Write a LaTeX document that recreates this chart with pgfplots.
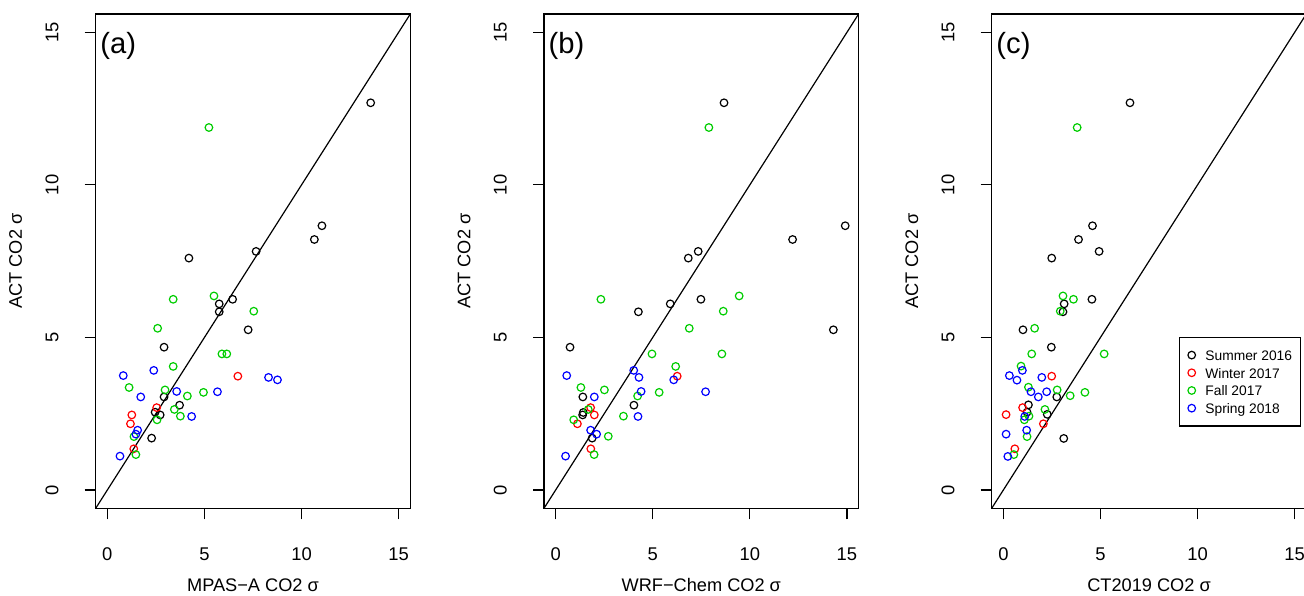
\documentclass[border=0pt]{standalone}
\usepackage{fontspec}
\setmainfont{Liberation Sans}
\usepackage{pgfplots}
\pgfplotsset{compat=1.18}
\definecolor{rred}{RGB}{255,0,0}
\definecolor{rgreen}{RGB}{0,205,0}
\definecolor{rblue}{RGB}{0,0,255}
\pgfplotsset{
  panel/.style={
    scale only axis, width=157.3pt, height=247.15pt,
    xmin=-0.6, xmax=15.6, ymin=-0.6, ymax=15.6,
    xtick={0,5,10,15}, ytick={0,5,10,15},
    xtick pos=left, ytick pos=left,
    tick align=outside, major tick length=5.5pt,
    tick style={black, line width=0.6pt},
    axis line style={line width=0.6pt},
    /pgf/number format/assume math mode=true,
    tick label style={font=\fontsize{9.2}{11}\selectfont},
    xticklabel style={anchor=north, inner sep=0pt},
    yticklabel style={rotate=90, anchor=south, inner sep=0pt},
    xticklabel shift=14.2pt, yticklabel shift=12.85pt,
    label style={font=\fontsize{9.1}{11}\selectfont},
    xlabel style={at={(axis description cs:0.5,-0.1687)}, anchor=base, inner sep=0pt},
    ylabel style={at={(axis description cs:-0.2343,0.5)}, anchor=base, inner sep=0pt},
    ylabel={ACT CO2 σ},
  },
  pts/.style={only marks, mark=o, mark size=1.9pt, mark options={line width=0.6pt, draw=#1}, color=#1},
  oneline/.style={black, line width=0.6pt, no marks, forget plot},
}
\newcommand{\panellabel}[1]{\node[anchor=west, inner sep=0pt, font=\fontsize{14.6}{18}\selectfont] at (rel axis cs:0.0137,0.9357) {#1};}
\begin{document}
\begin{tikzpicture}
\useasboundingbox (0,0) rectangle (652pt,297.5pt);
% ---------------- (a)
\begin{axis}[panel, at={(47.85pt,43.35pt)}, anchor=south west, xlabel={MPAS−A CO2 σ}]
\addplot[oneline] coordinates {(-0.6,-0.6) (15.6,15.6)};
\addplot[pts=black] coordinates {(13.56,12.69) (11.05,8.66) (10.66,8.21) (7.66,7.82) (4.20,7.60) (5.76,6.10) (6.45,6.25) (5.76,5.84) (7.25,5.25) (2.92,4.68) (2.92,3.05) (3.72,2.78) (2.46,2.55) (2.72,2.46) (2.28,1.70)};
\addplot[pts=rred] coordinates {(6.72,3.73) (2.54,2.70) (1.26,2.46) (1.19,2.17) (1.36,1.35)};
\addplot[pts=rgreen] coordinates {(5.23,11.88) (3.39,6.25) (5.49,6.36) (7.54,5.86) (2.59,5.30) (3.39,4.05) (5.90,4.46) (6.15,4.46) (1.12,3.36) (2.97,3.28) (4.12,3.08) (4.95,3.20) (3.45,2.64) (3.76,2.42) (2.56,2.30) (1.37,1.75) (1.47,1.16)};
\addplot[pts=rblue] coordinates {(0.82,3.75) (2.39,3.92) (8.30,3.69) (8.76,3.61) (1.72,3.05) (3.57,3.23) (5.67,3.22) (4.34,2.41) (1.56,1.96) (1.47,1.83) (0.65,1.11)};
\panellabel{(a)}
\end{axis}
% ---------------- (b)
\begin{axis}[panel, at={(272pt,43.35pt)}, anchor=south west, xlabel={WRF−Chem CO2 σ}]
\addplot[oneline] coordinates {(-0.6,-0.6) (15.6,15.6)};
\addplot[pts=black] coordinates {(8.67,12.69) (14.91,8.66) (12.20,8.21) (7.34,7.82) (6.83,7.60) (5.90,6.10) (7.48,6.25) (4.26,5.84) (14.30,5.25) (0.74,4.68) (1.40,3.05) (4.03,2.78) (1.42,2.54) (1.39,2.46) (1.88,1.70)};
\addplot[pts=rred] coordinates {(6.26,3.73) (1.80,2.70) (1.99,2.46) (1.12,2.17) (1.81,1.35)};
\addplot[pts=rgreen] coordinates {(7.89,11.88) (2.33,6.25) (9.45,6.36) (8.63,5.86) (6.88,5.30) (4.96,4.46) (8.56,4.46) (6.18,4.05) (1.30,3.36) (2.51,3.28) (4.22,3.08) (5.33,3.20) (1.68,2.64) (3.49,2.42) (0.93,2.30) (2.71,1.76) (1.98,1.16)};
\addplot[pts=rblue] coordinates {(0.57,3.75) (4.02,3.92) (4.29,3.69) (6.08,3.61) (1.99,3.05) (4.40,3.23) (7.72,3.22) (4.24,2.41) (1.80,1.96) (2.11,1.83) (0.51,1.11)};
\panellabel{(b)}
\end{axis}
% ---------------- (c)
\begin{axis}[panel, at={(495.85pt,43.35pt)}, anchor=south west, xlabel={CT2019 CO2 σ},
  legend style={at={(axis description cs:0.5954,0.3472)}, anchor=north west, draw=black, line width=0.6pt,
    font=\fontsize{6.9}{8.5}\selectfont, inner xsep=4.15pt, inner ysep=5pt, row sep=1.05pt, column sep=4.95pt,
    nodes={inner sep=0pt, text height=6.65pt, text depth=1.15pt}},
  legend cell align=left,
  legend image code/.code={\draw[#1] plot coordinates {(0pt,0pt)};}]
\addplot[oneline] coordinates {(-0.6,-0.6) (15.6,15.6)};
\addplot[pts=black] coordinates {(6.52,12.69) (4.59,8.66) (3.87,8.21) (4.93,7.82) (2.49,7.60) (4.56,6.25) (3.13,6.10) (3.07,5.84) (1.01,5.25) (2.47,4.68) (2.75,3.05) (1.29,2.79) (1.22,2.55) (2.26,2.48) (3.11,1.69)};
\addlegendentry{Summer 2016}
\addplot[pts=rred] coordinates {(2.49,3.73) (0.99,2.70) (0.14,2.47) (2.06,2.17) (0.59,1.35)};
\addlegendentry{Winter 2017}
\addplot[pts=rgreen] coordinates {(3.80,11.88) (3.07,6.36) (3.61,6.25) (2.93,5.86) (1.61,5.30) (1.46,4.46) (5.19,4.46) (0.91,4.06) (1.29,3.37) (2.77,3.28) (3.44,3.09) (4.20,3.20) (2.14,2.64) (1.32,2.42) (1.08,2.30) (1.22,1.75) (0.54,1.16)};
\addlegendentry{Fall 2017}
\addplot[pts=rblue] coordinates {(0.31,3.75) (0.98,3.92) (0.70,3.60) (1.98,3.69) (1.42,3.22) (1.80,3.05) (2.23,3.22) (1.10,2.41) (1.20,1.96) (0.14,1.83) (0.23,1.10)};
\addlegendentry{Spring 2018}
\panellabel{(c)}
\end{axis}
\end{tikzpicture}
\end{document}
